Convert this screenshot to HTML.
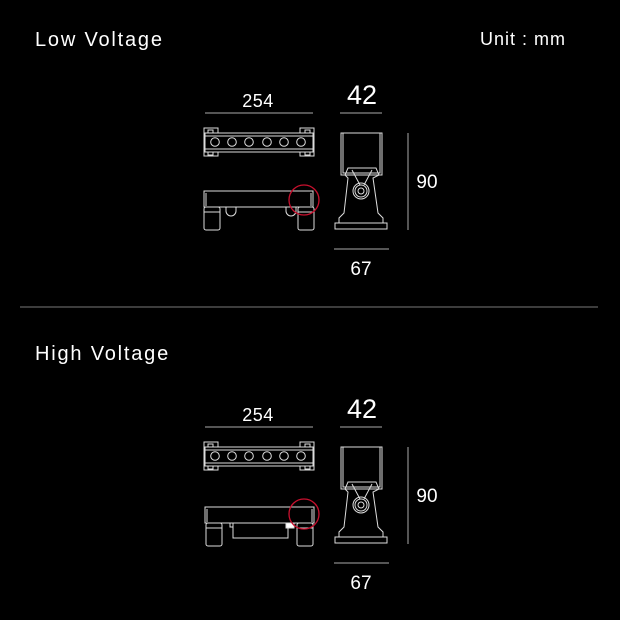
<!DOCTYPE html>
<html><head><style>
html,body{margin:0;padding:0;background:#000;}
svg{display:block;}
text{font-family:"Liberation Sans",sans-serif;fill:#fff;}
</style></head><body>
<svg width="620" height="620" viewBox="0 0 620 620" xmlns="http://www.w3.org/2000/svg">
<rect width="620" height="620" fill="#000"/>
<defs>
<g id="topv" fill="none" stroke="#ddd" stroke-width="1">
  <rect x="204" y="128" width="14" height="28"/>
  <rect x="300" y="128" width="14" height="28"/>
  <rect x="205" y="133" width="108" height="19" fill="#000"/>
  <line x1="205" y1="136" x2="313" y2="136"/>
  <line x1="205" y1="149" x2="313" y2="149"/>
  <circle cx="215" cy="142" r="4.3"/><circle cx="232" cy="142" r="4.3"/>
  <circle cx="249" cy="142" r="4.3"/><circle cx="267" cy="142" r="4.3"/>
  <circle cx="284" cy="142" r="4.3"/><circle cx="301" cy="142" r="4.3"/>
  <rect x="208" y="130" width="5" height="3"/><rect x="305" y="130" width="5" height="3"/>
  <rect x="208" y="152" width="5" height="3"/><rect x="305" y="152" width="5" height="3"/>
</g>
<g id="endv" fill="none" stroke="#ddd" stroke-width="1">
  <rect x="341" y="133" width="41" height="42"/>
  <rect x="343" y="133" width="37" height="40"/>
  <path d="M345 175 L348 168 L376 168 L379 175 L373 178 L378 213 L383 218 L383 223 L387 223 L387 229 L335 229 L335 223 L339 223 L339 218 L344 213 L348 178 Z"/>
  <path d="M352 170 L360 185 M372 170 L364 185"/>
  <circle cx="361" cy="191" r="8"/><circle cx="361" cy="191" r="6"/><circle cx="361" cy="191" r="3"/>
  <line x1="339" y1="223" x2="383" y2="223"/>
</g>
</defs>

<text x="35" y="46" font-size="20" letter-spacing="1.8">Low Voltage</text>
<text x="480" y="45" font-size="18" letter-spacing="1">Unit : mm</text>

<!-- Section 1 -->
<text x="258" y="107" font-size="18" text-anchor="middle" letter-spacing="0.5">254</text>
<line x1="205" y1="113" x2="313" y2="113" stroke="#aaa"/>
<use href="#topv"/>
<g fill="none" stroke="#ddd">
  <rect x="204" y="191" width="109" height="16"/>
  <line x1="206" y1="193" x2="206" y2="206"/><line x1="311" y1="193" x2="311" y2="206"/>
  <rect x="204" y="207" width="16" height="23" rx="2"/>
  <rect x="298" y="207" width="16" height="23" rx="2"/>
  <line x1="204" y1="212" x2="220" y2="212"/><line x1="298" y1="212" x2="314" y2="212"/>
  <path d="M226 207 v4 a3 3 0 0 0 10 0 v-4"/>
  <path d="M286 207 v4 a3 3 0 0 0 10 0 v-4"/>
</g>
<circle cx="304" cy="200" r="15" fill="none" stroke="#c8102e" stroke-width="1.3"/>
<text x="362" y="104" font-size="27" text-anchor="middle">42</text>
<line x1="340" y1="113" x2="382" y2="113" stroke="#aaa"/>
<use href="#endv"/>
<line x1="408" y1="133" x2="408" y2="230" stroke="#aaa"/>
<text x="427" y="188" font-size="19" text-anchor="middle">90</text>
<line x1="334" y1="249" x2="389" y2="249" stroke="#aaa"/>
<text x="361" y="275" font-size="19" text-anchor="middle">67</text>

<line x1="20" y1="307" x2="598" y2="307" stroke="#777"/>

<text x="35" y="360" font-size="20" letter-spacing="1.8">High Voltage</text>

<!-- Section 2 -->
<g transform="translate(0,314)">
<text x="258" y="107" font-size="18" text-anchor="middle" letter-spacing="0.5">254</text>
<line x1="205" y1="113" x2="313" y2="113" stroke="#aaa"/>
<use href="#topv"/>
<g fill="none" stroke="#ddd">
  <rect x="205" y="193" width="109" height="16"/>
  <line x1="207" y1="195" x2="207" y2="208"/><line x1="312" y1="195" x2="312" y2="208"/>
  <rect x="206" y="209" width="16" height="23" rx="2"/>
  <rect x="297" y="209" width="16" height="23" rx="2"/>
  <line x1="206" y1="214" x2="222" y2="214"/><line x1="297" y1="214" x2="313" y2="214"/>
  <rect x="233" y="209" width="55" height="15"/>
  <path d="M230 209 v4 h3 M288 213 h3 v-4"/>
  <rect x="286" y="209" width="8" height="5" fill="#fff"/>
</g>
<circle cx="304" cy="200" r="15" fill="none" stroke="#c8102e" stroke-width="1.3"/>
<text x="362" y="104" font-size="27" text-anchor="middle">42</text>
<line x1="340" y1="113" x2="382" y2="113" stroke="#aaa"/>
<use href="#endv"/>
<line x1="408" y1="133" x2="408" y2="230" stroke="#aaa"/>
<text x="427" y="188" font-size="19" text-anchor="middle">90</text>
<line x1="334" y1="249" x2="389" y2="249" stroke="#aaa"/>
<text x="361" y="275" font-size="19" text-anchor="middle">67</text>
</g>
</svg>
</body></html>
